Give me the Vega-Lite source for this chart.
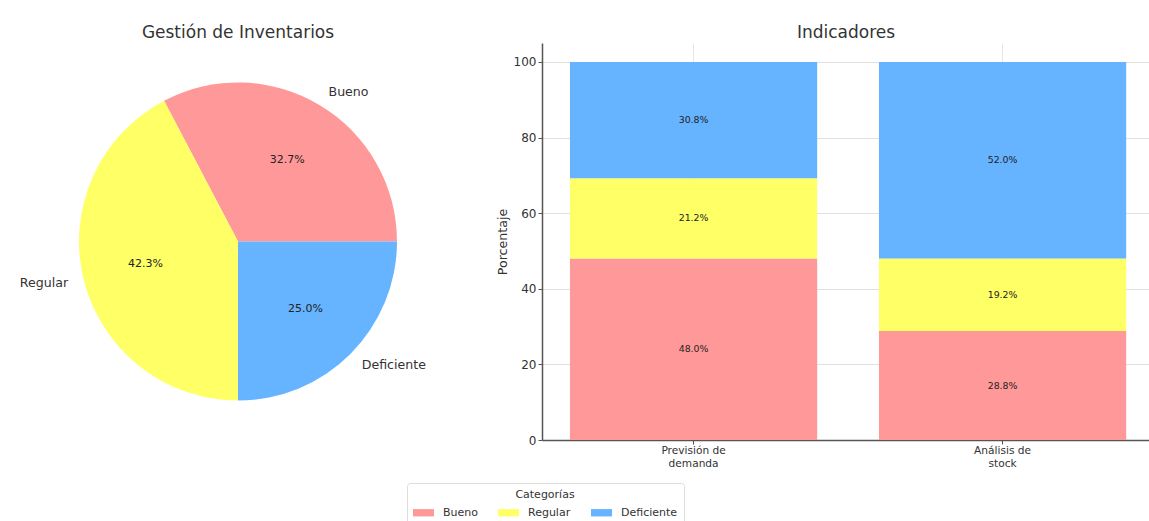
{
  "$schema": "https://vega.github.io/schema/vega-lite/v6.json",
  "background": "white",
  "padding": {"left": 0, "top": 24, "right": 0, "bottom": 0},
  "config": {
    "font": "DejaVu Sans",
    "view": {"stroke": null},
    "title": {"fontSize": 17, "fontWeight": "normal", "color": "#333333", "baseline": "alphabetic", "offset": 1, "anchor": "middle"},
    "axis": {"labelFont": "DejaVu Sans", "titleFont": "DejaVu Sans"}
  },
  "datasets": {
    "pastel": [
      {"categoria": "Bueno", "valor": 32.7},
      {"categoria": "Regular", "valor": 42.3},
      {"categoria": "Deficiente", "valor": 25.0}
    ],
    "barras": [
      {"indicador": "Previsión de demanda", "categoria": "Bueno", "porcentaje": 48.0},
      {"indicador": "Previsión de demanda", "categoria": "Regular", "porcentaje": 21.2},
      {"indicador": "Previsión de demanda", "categoria": "Deficiente", "porcentaje": 30.8},
      {"indicador": "Análisis de stock", "categoria": "Bueno", "porcentaje": 28.8},
      {"indicador": "Análisis de stock", "categoria": "Regular", "porcentaje": 19.2},
      {"indicador": "Análisis de stock", "categoria": "Deficiente", "porcentaje": 52.0}
    ]
  },
  "resolve": {"scale": {"color": "shared"}, "legend": {"color": "shared"}},
  "spacing": 20,
  "hconcat": [
    {
      "data": {"name": "pastel"},
      "width": 476,
      "height": 397,
      "title": {"text": "Gestión de Inventarios"},
      "transform": [
        {"calculate": "format(datum.valor, '.1f') + '%'", "as": "etiqueta"}
      ],
      "encoding": {
        "theta": {"field": "valor", "type": "quantitative", "stack": true, "scale": {"range": [-0.4838, 5.7994]}},
        "order": {"field": "categoria", "type": "nominal", "sort": "ascending"},
        "detail": {"field": "categoria", "type": "nominal"}
      },
      "layer": [
        {
          "mark": {"type": "arc", "outerRadius": 159},
          "encoding": {
            "color": {
              "field": "categoria", "type": "nominal",
              "scale": {"domain": ["Bueno", "Regular", "Deficiente"], "range": ["#FF9999", "#FFFF66", "#66B3FF"]},
              "legend": {
                "orient": "none", "legendX": 407, "legendY": 440,
                "direction": "horizontal", "columns": 3,
                "title": "Categorías", "titleAnchor": "middle", "titleFontSize": 11, "titleFontWeight": "normal", "titleColor": "#333333", "titlePadding": 2,
                "labelFontSize": 11, "labelColor": "#333333", "labelOffset": 9,
                "symbolType": "M-1,-0.35L1,-0.35L1,0.35L-1,0.35Z", "symbolSize": 441, "symbolStrokeWidth": 0, "symbolOpacity": 1,
                "columnPadding": 20, "padding": 6, "strokeColor": "#dddddd", "cornerRadius": 3, "fillColor": "white"
              }
            }
          }
        },
        {
          "mark": {"type": "text", "radius": 95.4, "fontSize": 11, "color": "#222222"},
          "encoding": {"text": {"field": "etiqueta", "type": "nominal"}}
        },
        {
          "mark": {"type": "text", "radius": 175, "fontSize": 12.6, "color": "#333333", "align": {"expr": "datum.categoria === 'Regular' ? 'right' : 'left'"}},
          "encoding": {"text": {"field": "categoria", "type": "nominal"}}
        }
      ]
    },
    {
      "data": {"name": "barras"},
      "width": 608,
      "height": 397,
      "title": {"text": "Indicadores"},
      "transform": [
        {"calculate": "indexof(['Bueno','Regular','Deficiente'], datum.categoria)", "as": "orden"},
        {"stack": "porcentaje", "groupby": ["indicador"], "sort": [{"field": "orden", "order": "ascending"}], "as": ["y0", "y1"]},
        {"calculate": "(datum.y0 + datum.y1) / 2", "as": "ymid"},
        {"calculate": "format(datum.porcentaje, '.1f') + '%'", "as": "etiqueta"}
      ],
      "encoding": {
        "x": {
          "field": "indicador", "type": "nominal",
          "sort": ["Previsión de demanda", "Análisis de stock"],
          "scale": {"paddingInner": 0.2, "paddingOuter": 0.0838, "align": 0.54},
          "axis": {
            "title": null, "labelAngle": 0, "labelFontSize": 10.6, "labelColor": "#333333",
            "labelExpr": "split(replace(datum.label, ' de ', ' de\\n'), '\\n')",
            "labelLineHeight": 13, "labelPadding": 1, "tickSize": 4, "tickColor": "#555555",
            "domainColor": "#555555", "domainWidth": 1.5,
            "grid": true, "gridColor": "#e6e6e6", "gridWidth": 1
          }
        }
      },
      "layer": [
        {
          "mark": {"type": "bar"},
          "encoding": {
            "y": {
              "field": "y0", "type": "quantitative",
              "scale": {"domain": [0, 105], "nice": false},
              "axis": {
                "title": "Porcentaje", "titleFontSize": 12.6, "titleFontWeight": "normal", "titleColor": "#333333", "titlePadding": 4,
                "values": [0, 20, 40, 60, 80, 100], "labelFontSize": 12, "labelColor": "#333333", "labelPadding": 2,
                "tickSize": 4, "tickColor": "#555555", "domainColor": "#555555", "domainWidth": 1.5,
                "grid": true, "gridColor": "#e0e0e0", "gridWidth": 1
              }
            },
            "y2": {"field": "y1"},
            "color": {
              "field": "categoria", "type": "nominal",
              "scale": {"domain": ["Bueno", "Regular", "Deficiente"], "range": ["#FF9999", "#FFFF66", "#66B3FF"]},
              "legend": {
                "orient": "none", "legendX": 407, "legendY": 440,
                "direction": "horizontal", "columns": 3,
                "title": "Categorías", "titleAnchor": "middle", "titleFontSize": 11, "titleFontWeight": "normal", "titleColor": "#333333", "titlePadding": 2,
                "labelFontSize": 11, "labelColor": "#333333", "labelOffset": 9,
                "symbolType": "M-1,-0.35L1,-0.35L1,0.35L-1,0.35Z", "symbolSize": 441, "symbolStrokeWidth": 0, "symbolOpacity": 1,
                "columnPadding": 20, "padding": 6, "strokeColor": "#dddddd", "cornerRadius": 3, "fillColor": "white"
              }
            }
          }
        },
        {
          "mark": {"type": "text", "fontSize": 9.4, "color": "#222222"},
          "encoding": {
            "y": {"field": "ymid", "type": "quantitative"},
            "text": {"field": "etiqueta", "type": "nominal"}
          }
        }
      ]
    }
  ]
}
